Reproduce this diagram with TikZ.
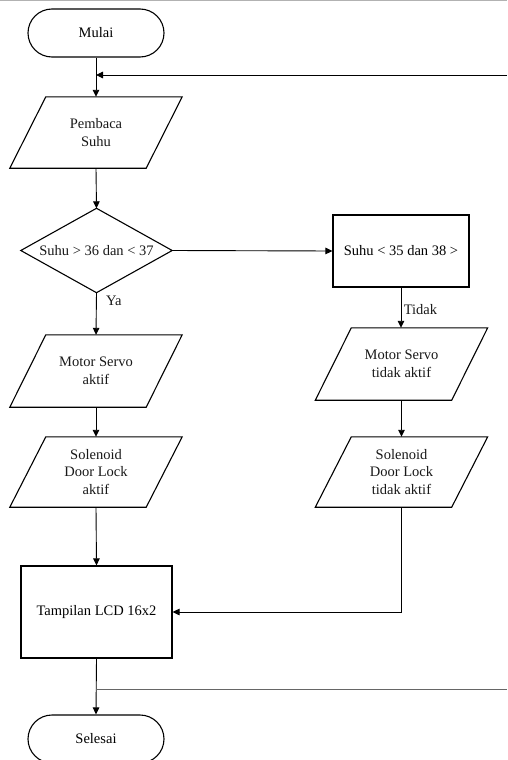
\documentclass[tikz,border=0pt]{standalone}
\usepackage{fontspec}
\setmainfont{Liberation Serif}
\usetikzlibrary{arrows.meta,calc}
\tikzset{
  shapeline/.style={line width=1.1pt, black},
  conn/.style={line width=0.9pt, black},
  arr/.style={conn, -{Triangle[length=7pt,width=6.5pt]}},
  txt/.style={font=\fontsize{14.5}{17.5}\selectfont, align=center, text=black!90},
  term/.style={txt, shapeline, draw, rectangle, rounded corners=24pt, minimum width=136pt, minimum height=48pt, inner sep=0pt},
  procbox/.style={txt, shapeline, draw, rectangle, inner sep=0pt},
  iobox/.style={txt, rectangle, inner sep=0pt, minimum width=172pt},
  decbox/.style={txt, rectangle, inner sep=0pt, minimum width=151pt, minimum height=84pt},
  lbl/.style={font=\fontsize{14.5}{17.5}\selectfont, text=black!90}
}
\newcommand\drawpara[1]{\draw[shapeline] (#1.south west) -- ([xshift=36pt]#1.north west) -- (#1.north east) -- ([xshift=-36pt]#1.south east) -- cycle;}
\newcommand\drawdiam[1]{\draw[shapeline] (#1.north) -- (#1.east) -- (#1.south) -- (#1.west) -- cycle;}
\begin{document}
\begin{tikzpicture}[x=1pt,y=-1pt]
\useasboundingbox (0,0) rectangle (507,760);
\fill[white] (0,0) rectangle (507,760);
\draw[line width=1.2pt, black!30] (0,0.6) -- (507,0.6);

\node[term] (mulai) at (96,33) {Mulai};
\node[iobox, minimum height=71pt] (baca) at (96,132.5) {Pembaca\\Suhu};
\drawpara{baca}
\node[decbox] (dec) at (96.5,250.5) {Suhu > 36 dan < 37};
\drawdiam{dec}
\node[procbox, minimum width=136pt, minimum height=72pt] (cek) at (401,251) {Suhu < 35 dan 38 >};
\node[iobox, minimum height=72pt] (servo1) at (96,371) {Motor Servo\\aktif};
\drawpara{servo1}
\node[iobox, minimum height=70pt] (sol1) at (96,472) {Solenoid\\Door Lock\\aktif};
\drawpara{sol1}
\node[iobox, minimum height=72pt] (servo2) at (401.5,364) {Motor Servo\\tidak aktif};
\drawpara{servo2}
\node[iobox, minimum height=70pt] (sol2) at (401.5,472) {Solenoid\\Door Lock\\tidak aktif};
\drawpara{sol2}
\node[procbox, minimum width=151pt, minimum height=92pt] (lcd) at (96.5,612) {Tampilan LCD 16x2};
\node[term] (selesai) at (96,739) {Selesai};

\coordinate (fbR) at (507,75);
\coordinate (fbJ) at (96,75);
\coordinate (btJ) at (96,689);
\coordinate (btR) at (507,689);

\draw[arr] (mulai.south) -- (baca.north);
\draw[arr] (fbR) -- (fbJ);
\draw[arr] (baca.south) -- (dec.north);
\draw[arr] (dec.east) -- (cek.west);
\draw[arr] (dec.south) -- node[lbl, right, pos=0.2, xshift=6pt] (ya) {Ya} (servo1.north);
\draw[arr] ([xshift=0pt]cek.south) -- node[lbl, right, pos=0.55, xshift=-1pt] (tidak) {Tidak} ([xshift=-0.5pt]servo2.north);
\draw[arr] (servo1.south) -- (sol1.north);
\draw[arr] (servo2.south) -- (sol2.north);
\draw[arr] (sol1.south) -- (lcd.north);
\draw[arr] ([xshift=-0.5pt]sol2.south) |- (lcd.east);
\draw[arr] (lcd.south) -- (selesai.north);
\draw[conn, black!60] (btJ) -- (btR);
\end{tikzpicture}
\end{document}
